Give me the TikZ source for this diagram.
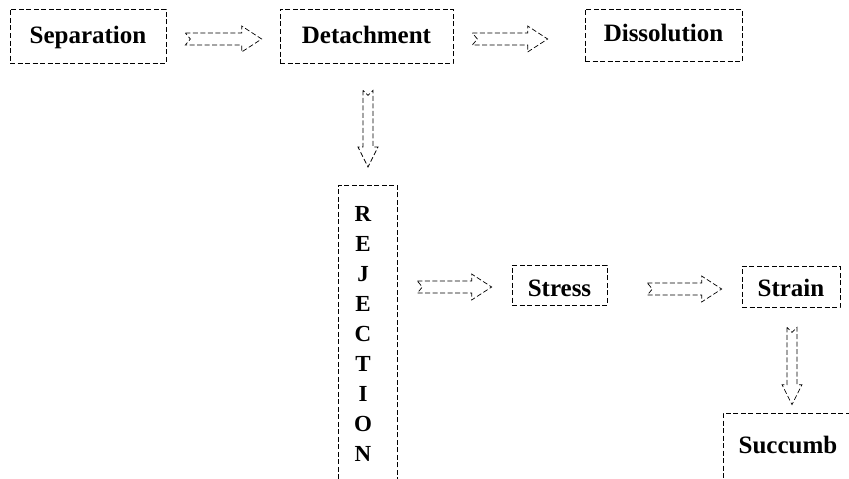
\documentclass[tikz,border=0pt]{standalone}
\usepackage{fontspec}
\setmainfont{Liberation Serif}
\usetikzlibrary{calc}
\begin{document}
\begin{tikzpicture}[x=1pt,y=-1pt,
  ln/.style={draw=black, line width=0.7pt, dash pattern=on 5pt off 2.5pt},
  box/.style={ln, font=\bfseries\fontsize{25}{29}\selectfont, inner sep=0pt, text height=16pt, text depth=5pt},
  rejbox/.style={ln, font=\bfseries\fontsize{23}{30}\selectfont, inner sep=0pt, align=center},
  harrow/.style={ln, to path={let \p1=(\tikztostart), \p2=(\tikztotarget) in
    (\x1,\y1+6pt) -- (\x2-20pt,\y1+6pt) -- (\x2-20pt,\y1+13pt) -- (\x2,\y1) --
    (\x2-20pt,\y1-13pt) -- (\x2-20pt,\y1-6pt) -- (\x1,\y1-6pt) -- (\x1+5pt,\y1) -- cycle}},
  varrow/.style={ln, to path={let \p1=(\tikztostart), \p2=(\tikztotarget) in
    (\x1-5pt,\y1) -- (\x1-5pt,\y2+20pt) -- (\x1-10pt,\y2+20pt) -- (\x1,\y2) --
    (\x1+10pt,\y2+20pt) -- (\x1+5pt,\y2+20pt) -- (\x1+5pt,\y1) -- (\x1,\y1-5pt) -- cycle}}
]
\useasboundingbox (0,0) rectangle (849,479);
\clip (0,0) rectangle (849,479);

\node[box, minimum width=156, minimum height=54] (sep) at (88,36) {\raisebox{-2pt}{Separation}};
\node[box, minimum width=173, minimum height=54] (det) at (366.5,36) {\raisebox{-2pt}{Detachment}};
\node[box, minimum width=157, minimum height=52] (dis) at (663.5,35) {\raisebox{-1pt}{Dissolution}};
\node[rejbox, minimum width=59, minimum height=298, anchor=north] (rej) at (367.5,185)
  {\hspace*{-9pt}R\\\hspace*{-9pt}E\\\hspace*{-9pt}J\\\hspace*{-9pt}E\\\hspace*{-9pt}C\\\hspace*{-9pt}T\\\hspace*{-9pt}I\\\hspace*{-9pt}O\\\hspace*{-9pt}N};
\node[box, minimum width=95, minimum height=40] (stress) at (559.5,285) {\raisebox{-6pt}{Stress}};
\node[box, minimum width=98, minimum height=41] (strain) at (791,286.5) {\raisebox{-4pt}{Strain}};
\node[box, minimum width=130, minimum height=70] (succ) at (788,448) {Succumb};

\coordinate (a1s) at ($(sep.east)+(19,3)$);
\coordinate (a1e) at ($(det.west)+(-18,3)$);
\coordinate (a2s) at ($(det.east)+(19,3)$);
\coordinate (a2e) at ($(dis.west)+(-37,3)$);
\coordinate (v1s) at ($(det.south)+(1.5,27)$);
\coordinate (v1e) at ($(rej.north)+(0.5,-18)$);
\coordinate (a3s) at ($(rej.east |- stress.west)+(20,2)$);
\coordinate (a3e) at ($(stress.west)+(-20,2)$);
\coordinate (a4s) at ($(stress.east)+(40,4)$);
\coordinate (a4e) at ($(strain.west)+(-20,2)$);
\coordinate (v2s) at ($(strain.south)+(1,20)$);
\coordinate (v2e) at ($(succ.north)+(4,-8)$);

\draw[harrow] (a1s) to (a1e);
\draw[harrow] (a2s) to (a2e);
\draw[varrow] (v1s) to (v1e);
\draw[harrow] (a3s) to (a3e);
\draw[harrow] (a4s) to (a4e);
\draw[varrow] (v2s) to (v2e);
\end{tikzpicture}
\end{document}
